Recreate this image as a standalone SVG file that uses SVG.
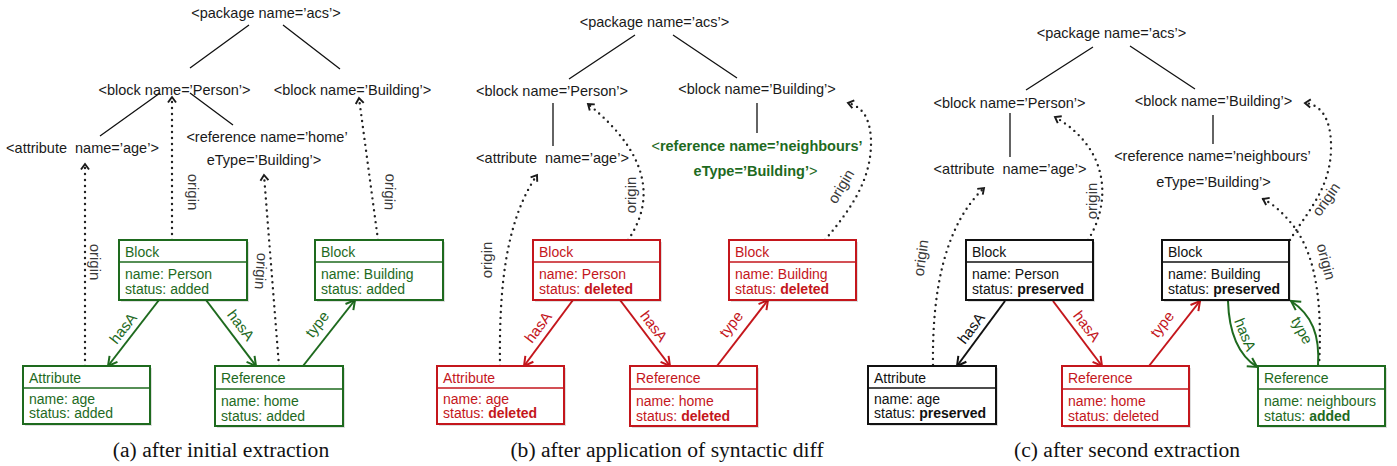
<svg xmlns="http://www.w3.org/2000/svg" width="1397" height="466" viewBox="0 0 1397 466">
<style>
text{font-family:"Liberation Sans",Arial,Helvetica,sans-serif;font-size:14px;fill:#1a1a1a}
.tr text,text.tr{font-size:14.5px;text-anchor:middle}
.cap{font-family:"Liberation Serif","Times New Roman",serif;font-size:21.6px;fill:#111;text-anchor:middle}
.tl{stroke:#111;stroke-width:1.3;fill:none}
.dot{fill:none;stroke:#222;stroke-width:2.4;stroke-dasharray:0 6;stroke-linecap:round}
.box{fill:#fff;stroke-width:2}
.sh{fill:#000;opacity:0.13}
.div{stroke-width:1.6}
.g .box,.g .div{stroke:#1e6a1e}.g text{fill:#1e6a1e}
.r .box,.r .div{stroke:#c4161c}.r text{fill:#c4161c}
.k .box,.k .div{stroke:#111}.k text{fill:#111}
.eg{stroke:#1e6a1e;stroke-width:2;fill:none}
.er{stroke:#c4161c;stroke-width:2;fill:none}
.ek{stroke:#111;stroke-width:2;fill:none}
.lg,.lr,.lk,.lo{font-size:15px;text-anchor:middle}
.lg{fill:#1e6a1e}
.lr{fill:#c4161c}
.lk{fill:#111}
.lo{fill:#3a3a3a}
.b{font-weight:bold}
.gt{fill:#1e6a1e}
</style>
<defs>
<marker id="mg" viewBox="-10 -6 12 12" refX="0" refY="0" markerWidth="12" markerHeight="12" markerUnits="userSpaceOnUse" orient="auto" overflow="visible"><path d="M-9,-5 L0,0 L-9,5" fill="none" stroke="#1e6a1e" stroke-width="2"/></marker>
<marker id="mr" viewBox="-10 -6 12 12" refX="0" refY="0" markerWidth="12" markerHeight="12" markerUnits="userSpaceOnUse" orient="auto" overflow="visible"><path d="M-9,-5 L0,0 L-9,5" fill="none" stroke="#c4161c" stroke-width="2"/></marker>
<marker id="mk" viewBox="-10 -6 12 12" refX="0" refY="0" markerWidth="12" markerHeight="12" markerUnits="userSpaceOnUse" orient="auto" overflow="visible"><path d="M-9,-5 L0,0 L-9,5" fill="none" stroke="#111" stroke-width="2"/></marker>
<marker id="mo" viewBox="-7 -5 9 10" refX="0" refY="0" markerWidth="10" markerHeight="10" markerUnits="userSpaceOnUse" orient="auto" overflow="visible"><path d="M-5.5,-4 L0,0 L-5.5,4" fill="none" stroke="#1a1a1a" stroke-width="1.9"/></marker>
</defs>

<!-- ===== Panel (a) tree nodes ===== -->
<g id="a-pkg" class="tr"><text x="266" y="18">&lt;package name=’acs’&gt;</text></g>
<g id="a-tperson" class="tr"><text x="174.5" y="95">&lt;block name=’Person’&gt;</text></g>
<g id="a-tbuilding" class="tr"><text x="352.5" y="95">&lt;block name=’Building’&gt;</text></g>
<g id="a-tattr" class="tr"><text x="82.5" y="153" xml:space="preserve">&lt;attribute  name=’age’&gt;</text></g>
<g id="a-tref" class="tr"><text x="267" y="142">&lt;reference name=’home’</text><text x="264" y="165">eType=’Building’&gt;</text></g>

<!-- ===== Panel (b) tree nodes ===== -->
<g id="b-pkg" class="tr"><text x="654.5" y="27">&lt;package name=’acs’&gt;</text></g>
<g id="b-tperson" class="tr"><text x="552" y="96">&lt;block name=’Person’&gt;</text></g>
<g id="b-tbuilding" class="tr"><text x="757" y="94">&lt;block name=’Building’&gt;</text></g>
<g id="b-tattr" class="tr"><text x="552.5" y="163" xml:space="preserve">&lt;attribute  name=’age’&gt;</text></g>
<g id="b-tref" class="tr"><text x="757" y="151" class="gt">&lt;<tspan class="b gt">reference name=’neighbours’</tspan></text><text x="755.5" y="176" class="gt"><tspan class="b gt">eType=’Building’</tspan>&gt;</text></g>

<!-- ===== Panel (c) tree nodes ===== -->
<g id="c-pkg" class="tr"><text x="1111.5" y="38">&lt;package name=’acs’&gt;</text></g>
<g id="c-tperson" class="tr"><text x="1009.5" y="108">&lt;block name=’Person’&gt;</text></g>
<g id="c-tbuilding" class="tr"><text x="1213.5" y="106">&lt;block name=’Building’&gt;</text></g>
<g id="c-tattr" class="tr"><text x="1010" y="174" xml:space="preserve">&lt;attribute  name=’age’&gt;</text></g>
<g id="c-tref" class="tr"><text x="1212.5" y="161">&lt;reference name=’neighbours’</text><text x="1213.5" y="187">eType=’Building’&gt;</text></g>

<!-- ===== Connectors ===== -->
<g id="connectors">
 <!-- tree edges -->
 <path class="tl" d="M249,25 L190,68 M283,25 L340,69 M160,93 L100,136 M190,93 L233,125"/>
 <path class="tl" d="M635,35 L569,79 M673,35 L737,78 M553,103 L553,146 M757,103 L757,133"/>
 <path class="tl" d="M1093,47 L1026,90 M1130,46 L1195,89 M1010,113 L1010,157 M1213,115 L1213,144"/>

 <!-- origin links (a) -->
 <path class="dot" d="M85,366 L85,164" marker-end="url(#mo)"/>
 <path class="dot" d="M172,240 L172,97" marker-end="url(#mo)"/>
 <path class="dot" d="M279,366 L264,175" marker-end="url(#mo)"/>
 <path class="dot" d="M378,240 L359,98" marker-end="url(#mo)"/>
 <text class="lo" transform="translate(94,262) rotate(90)" y="4">origin</text>
 <text class="lo" transform="translate(192,192) rotate(90)" y="4">origin</text>
 <text class="lo" transform="translate(260,271) rotate(94)" y="4">origin</text>
 <text class="lo" transform="translate(389,192) rotate(92)" y="4">origin</text>

 <!-- origin links (b) -->
 <path class="dot" d="M500,366 C499,290 505,222 537,175" marker-end="url(#mo)"/>
 <path class="dot" d="M628,240 C652,205 655,158 588,104" marker-end="url(#mo)"/>
 <path class="dot" d="M825,240 C850,210 872,180 871,140 C870,115 860,106 848,103" marker-end="url(#mo)"/>
 <text class="lo" transform="translate(488,260) rotate(-90)" y="4">origin</text>
 <text class="lo" transform="translate(632,195) rotate(-90)" y="4">origin</text>
 <text class="lo" transform="translate(842,187) rotate(-59)" y="4">origin</text>

 <!-- origin links (c) -->
 <path class="dot" d="M933,365 C932,290 945,225 984,188" marker-end="url(#mo)"/>
 <path class="dot" d="M1088,240 C1110,205 1112,150 1055,117" marker-end="url(#mo)"/>
 <path class="dot" d="M1290,240 C1305,215 1330,190 1331,150 C1332,115 1318,104 1305,103" marker-end="url(#mo)"/>
 <path class="dot" d="M1319,366 C1322,310 1318,260 1295,228 C1285,215 1275,205 1263,199" marker-end="url(#mo)"/>
 <text class="lo" transform="translate(922,258) rotate(-82)" y="4">origin</text>
 <text class="lo" transform="translate(1093,201) rotate(-90)" y="4">origin</text>
 <text class="lo" transform="translate(1327,200) rotate(-55)" y="4">origin</text>
 <text class="lo" transform="translate(1325,262) rotate(75)" y="4">origin</text>

 <!-- model edges (a) -->
 <path class="eg" d="M159,300 L108,366" marker-end="url(#mg)"/>
 <path class="eg" d="M206,300 L256,366" marker-end="url(#mg)"/>
 <path class="eg" d="M303,366 L355,300" marker-end="url(#mg)"/>
 <text class="lg" transform="translate(124,329) rotate(-52)" y="4">hasA</text>
 <text class="lg" transform="translate(240,326) rotate(53)" y="4">hasA</text>
 <text class="lg" transform="translate(318,325) rotate(-52)" y="4">type</text>

 <!-- model edges (b) -->
 <path class="er" d="M573,300 L524,366" marker-end="url(#mr)"/>
 <path class="er" d="M620,300 L670,366" marker-end="url(#mr)"/>
 <path class="er" d="M717,366 L768,300" marker-end="url(#mr)"/>
 <text class="lr" transform="translate(539,328) rotate(-53)" y="4">hasA</text>
 <text class="lr" transform="translate(653,327) rotate(53)" y="4">hasA</text>
 <text class="lr" transform="translate(732,325) rotate(-52)" y="4">type</text>

 <!-- model edges (c) -->
 <path class="ek" d="M1005,301 L957,366" marker-end="url(#mk)"/>
 <path class="er" d="M1053,301 L1102,366" marker-end="url(#mr)"/>
 <path class="er" d="M1149,366 L1200,301" marker-end="url(#mr)"/>
 <path class="eg" d="M1228,301 C1229,335 1240,356 1257,367" marker-end="url(#mg)"/>
 <path class="eg" d="M1318,366 C1320,335 1312,315 1291,301" marker-end="url(#mg)"/>
 <text class="lk" transform="translate(972,329) rotate(-53)" y="4">hasA</text>
 <text class="lr" transform="translate(1086,327) rotate(53)" y="4">hasA</text>
 <text class="lr" transform="translate(1163,325) rotate(-52)" y="4">type</text>
 <text class="lg" transform="translate(1244,335) rotate(68)" y="4">hasA</text>
 <text class="lg" transform="translate(1301,331) rotate(62)" y="4">type</text>
</g>

<!-- ===== Panel (a) model boxes ===== -->
<g id="a-block-person" class="g">
 <rect class="sh" x="121" y="242" width="128" height="60"/><rect class="box" x="119" y="240" width="128" height="60"/>
 <line class="div" x1="119" y1="262" x2="247" y2="262"/>
 <text x="125" y="257">Block</text><text x="125" y="279">name: Person</text><text x="125" y="294">status: added</text>
</g>
<g id="a-block-building" class="g">
 <rect class="sh" x="317" y="242" width="128" height="60"/><rect class="box" x="315" y="240" width="128" height="60"/>
 <line class="div" x1="315" y1="262" x2="443" y2="262"/>
 <text x="321" y="257">Block</text><text x="321" y="279">name: Building</text><text x="321" y="294">status: added</text>
</g>
<g id="a-attribute" class="g">
 <rect class="sh" x="25" y="368" width="127" height="58"/><rect class="box" x="23" y="366" width="127" height="58"/>
 <line class="div" x1="23" y1="388" x2="150" y2="388"/>
 <text x="29" y="383">Attribute</text><text x="29" y="404">name: age</text><text x="29" y="418">status: added</text>
</g>
<g id="a-reference" class="g">
 <rect class="sh" x="217" y="368" width="128" height="60"/><rect class="box" x="215" y="366" width="128" height="60"/>
 <line class="div" x1="215" y1="389" x2="343" y2="389"/>
 <text x="221" y="383">Reference</text><text x="221" y="406">name: home</text><text x="221" y="421">status: added</text>
</g>

<!-- ===== Panel (b) model boxes ===== -->
<g id="b-block-person" class="r">
 <rect class="sh" x="535" y="242" width="127" height="60"/><rect class="box" x="533" y="240" width="127" height="60"/>
 <line class="div" x1="533" y1="262" x2="660" y2="262"/>
 <text x="539" y="257">Block</text><text x="539" y="279">name: Person</text><text x="539" y="294">status: <tspan class="b">deleted</tspan></text>
</g>
<g id="b-block-building" class="r">
 <rect class="sh" x="731" y="242" width="127" height="60"/><rect class="box" x="729" y="240" width="127" height="60"/>
 <line class="div" x1="729" y1="262" x2="856" y2="262"/>
 <text x="735" y="257">Block</text><text x="735" y="279">name: Building</text><text x="735" y="294">status: <tspan class="b">deleted</tspan></text>
</g>
<g id="b-attribute" class="r">
 <rect class="sh" x="439" y="368" width="127" height="58"/><rect class="box" x="437" y="366" width="127" height="58"/>
 <line class="div" x1="437" y1="388" x2="564" y2="388"/>
 <text x="443" y="383">Attribute</text><text x="443" y="404">name: age</text><text x="443" y="418">status: <tspan class="b">deleted</tspan></text>
</g>
<g id="b-reference" class="r">
 <rect class="sh" x="632" y="368" width="127" height="60"/><rect class="box" x="630" y="366" width="127" height="60"/>
 <line class="div" x1="630" y1="389" x2="757" y2="389"/>
 <text x="636" y="383">Reference</text><text x="636" y="406">name: home</text><text x="636" y="421">status: <tspan class="b">deleted</tspan></text>
</g>

<!-- ===== Panel (c) model boxes ===== -->
<g id="c-block-person" class="k">
 <rect class="sh" x="968" y="242" width="127" height="60"/><rect class="box" x="966" y="240" width="127" height="60"/>
 <line class="div" x1="966" y1="262" x2="1093" y2="262"/>
 <text x="972" y="257">Block</text><text x="972" y="279">name: Person</text><text x="972" y="294">status: <tspan class="b">preserved</tspan></text>
</g>
<g id="c-block-building" class="k">
 <rect class="sh" x="1164" y="242" width="127" height="60"/><rect class="box" x="1162" y="240" width="127" height="60"/>
 <line class="div" x1="1162" y1="262" x2="1289" y2="262"/>
 <text x="1168" y="257">Block</text><text x="1168" y="279">name: Building</text><text x="1168" y="294">status: <tspan class="b">preserved</tspan></text>
</g>
<g id="c-attribute" class="k">
 <rect class="sh" x="870" y="368" width="128" height="58"/><rect class="box" x="868" y="366" width="128" height="58"/>
 <line class="div" x1="868" y1="388" x2="996" y2="388"/>
 <text x="874" y="383">Attribute</text><text x="874" y="404">name: age</text><text x="874" y="418">status: <tspan class="b">preserved</tspan></text>
</g>
<g id="c-reference-home" class="r">
 <rect class="sh" x="1064" y="368" width="127" height="60"/><rect class="box" x="1062" y="366" width="127" height="60"/>
 <line class="div" x1="1062" y1="389" x2="1189" y2="389"/>
 <text x="1068" y="383">Reference</text><text x="1068" y="406">name: home</text><text x="1068" y="421">status: deleted</text>
</g>
<g id="c-reference-neighbours" class="g">
 <rect class="sh" x="1260" y="368" width="127" height="60"/><rect class="box" x="1258" y="366" width="127" height="60"/>
 <line class="div" x1="1258" y1="389" x2="1385" y2="389"/>
 <text x="1264" y="383">Reference</text><text x="1264" y="406">name: neighbours</text><text x="1264" y="421">status: <tspan class="b">added</tspan></text>
</g>

<!-- captions -->
<text class="cap" x="221" y="457">(a) after initial extraction</text>
<text class="cap" x="667" y="457">(b) after application of syntactic diff</text>
<text class="cap" x="1127" y="457">(c) after second extraction</text>
</svg>
